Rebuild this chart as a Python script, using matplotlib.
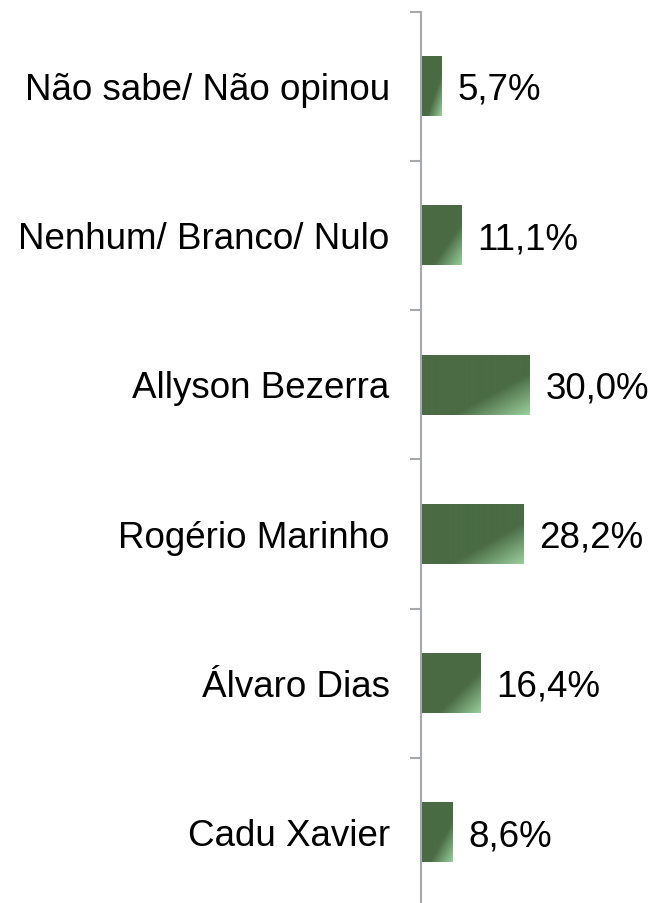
import numpy as np
import matplotlib
matplotlib.use("Agg")
import matplotlib.pyplot as plt
from matplotlib.colors import to_rgb

categories = ["Não sabe/ Não opinou", "Nenhum/ Branco/ Nulo", "Allyson Bezerra",
              "Rogério Marinho", "Álvaro Dias", "Cadu Xavier"]
values = [5.7, 11.1, 30.0, 28.2, 16.4, 8.6]
value_labels = ["5,7%", "11,1%", "30,0%", "28,2%", "16,4%", "8,6%"]

plt.rcParams['font.family'] = ['Liberation Sans', 'DejaVu Sans']
FS = 26.5

W, H = 654, 904
fig = plt.figure(figsize=(W / 100, H / 100), dpi=100)
ax_left = 421 / W
ax_top = 12.6
ax_bot = 908.1
ax = fig.add_axes([ax_left, (H - ax_bot) / H, 1 - ax_left, (ax_bot - ax_top) / H])

n = len(categories)
px_per_unit = 109 / 30.0
xmax = (W - 421) / px_per_unit

dark = np.array(to_rgb("#4A6B44"))
light = np.array(to_rgb("#9BCF9D"))
bar_h = 0.40

ny, nx = 60, 120
vv, uu = np.mgrid[0:ny, 0:nx]
u = uu / (nx - 1)
v = vv / (ny - 1)
t = (u + v) / 2
t0 = 0.65
f = np.clip((t - t0) / (1 - t0), 0, 1)
img = dark[None, None, :] * (1 - f[..., None]) + light[None, None, :] * f[..., None]

half_cap = 25.5 / 2 * 0.72  # points (cap height ~25.5 px)
ypos = [n - 1 - i for i in range(n)]
for y, val, lab, cat in zip(ypos, values, value_labels, categories):
    ax.imshow(img, extent=(0, val, y - bar_h / 2, y + bar_h / 2), origin='upper',
              aspect='auto', interpolation='bilinear', zorder=2)
    ax.annotate(lab, xy=(val, y), xytext=(11.5, -half_cap), textcoords='offset points',
                va='baseline', ha='left', fontsize=FS, color='black')
    ax.annotate(cat, xy=(0, y), xytext=(-22.5, -half_cap), textcoords='offset points',
                va='baseline', ha='right', fontsize=FS, color='black',
                annotation_clip=False)

ax.set_xlim(0, xmax)
ax.set_ylim(-0.5, n - 0.5)

for s in ['top', 'right', 'bottom']:
    ax.spines[s].set_visible(False)
ax.spines['left'].set_color('#A6AAAF')
ax.spines['left'].set_linewidth(1.5)
ax.set_xticks([])
ax.set_yticks(np.arange(-0.5, n, 1.0))
ax.set_yticklabels([])
ax.tick_params(axis='y', length=8, width=1.5, color='#A6AAAF')
ax.patch.set_visible(False)

fig.savefig("out.png", dpi=100)
